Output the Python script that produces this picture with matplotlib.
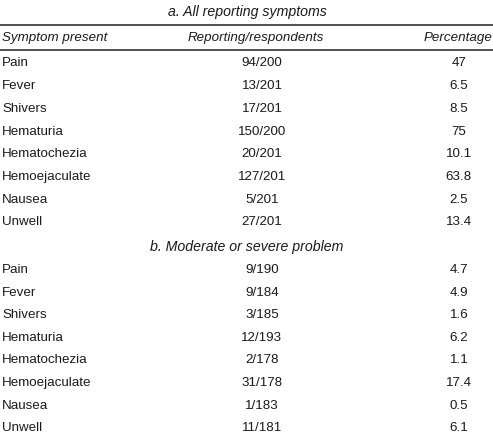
import matplotlib
matplotlib.use('Agg')
import matplotlib.pyplot as plt
from matplotlib.lines import Line2D

# table contents
symptoms = ['Pain', 'Fever', 'Shivers', 'Hematuria', 'Hematochezia',
            'Hemoejaculate', 'Nausea', 'Unwell']
reported_a = ['94/200', '13/201', '17/201', '150/200', '20/201', '127/201', '5/201', '27/201']
pct_a = ['47', '6.5', '8.5', '75', '10.1', '63.8', '2.5', '13.4']
reported_b = ['9/190', '9/184', '3/185', '12/193', '2/178', '31/178', '1/183', '11/181']
pct_b = ['4.7', '4.9', '1.6', '6.2', '1.1', '17.4', '0.5', '6.1']
headers = ['Symptom present', 'Reporting/respondents', 'Percentage']
section_titles = ['a. All reporting symptoms', 'b. Moderate or severe problem']

W, H = 493, 439
fig = plt.figure(figsize=(W / 100, H / 100), dpi=100)
fig.patch.set_facecolor('white')

fs = 9.6
col = '#1a1a1a'
font = 'Liberation Sans'


def txt(x, y, s, ha='left', italic=False, size=fs):
    # x, y in pixel coords from top-left
    fig.text(x / W, 1 - y / H, s, ha=ha, va='center', fontsize=size, color=col,
             family=font, style='italic' if italic else 'normal')


def hline(y):
    fig.add_artist(Line2D([0, 1], [1 - y / H, 1 - y / H], color='#222222', lw=1.1))


txt(247, 12, section_titles[0], ha='center', italic=True, size=10.2)
hline(25.5)
txt(2, 38, headers[0], italic=True)
txt(256, 38, headers[1], ha='center', italic=True)
txt(492, 38, headers[2], ha='right', italic=True)
hline(50.5)

y0 = 63.5
for i, s in enumerate(symptoms):
    y = y0 + i * 22.7
    txt(2, y, s)
    txt(262, y, reported_a[i], ha='center')
    txt(459, y, pct_a[i], ha='center')

txt(247, 247, section_titles[1], ha='center', italic=True, size=10.2)

y0 = 270
for i, s in enumerate(symptoms):
    y = y0 + i * 22.6
    txt(2, y, s)
    txt(262, y, reported_b[i], ha='center')
    txt(459, y, pct_b[i], ha='center')

fig.savefig('out.png', dpi=100)
